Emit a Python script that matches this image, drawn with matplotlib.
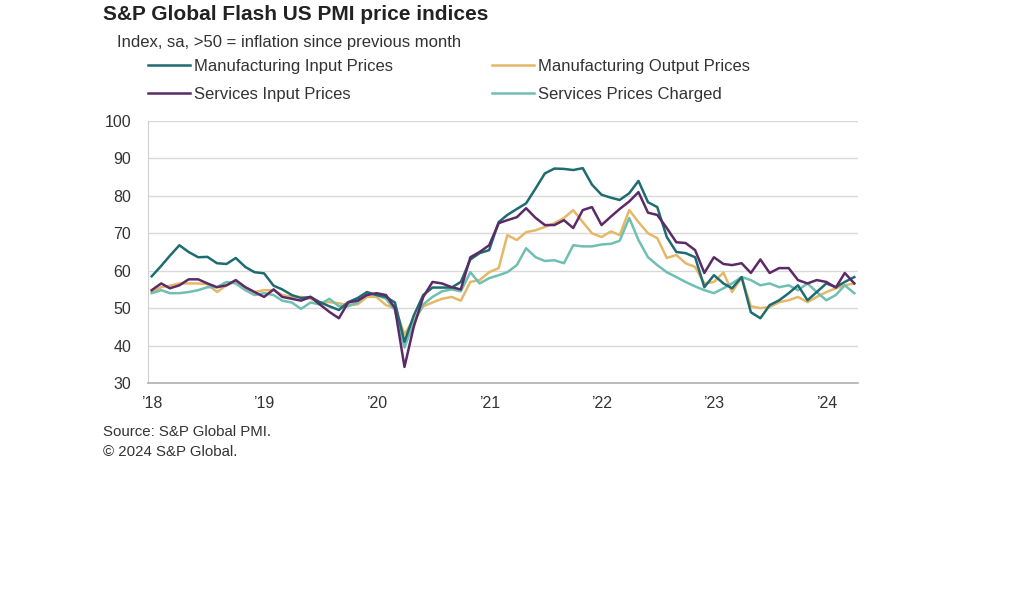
import numpy as np
import pandas as pd
import matplotlib
matplotlib.use("Agg")
import matplotlib.pyplot as plt
import matplotlib.dates as mdates

plt.rcParams['font.family'] = ['Liberation Sans', 'DejaVu Sans']

# monthly readings, Jan 2018 - Apr 2024
months = pd.date_range("2018-01-01", periods=76, freq="MS")

mfg_input = [58.5, 61.3, 64.0, 66.8, 65.0, 63.6, 63.7, 62.0, 61.8, 63.4, 61.0, 59.6,
             59.3, 56.0, 55.0, 53.5, 52.7, 53.0, 51.6, 50.5, 49.5, 51.6, 52.7, 54.3,
             53.5, 53.0, 51.5, 41.0, 48.0, 53.5, 55.5, 55.5, 55.5, 57.0, 63.0, 64.7,
             65.5, 73.0, 74.9, 76.5, 78.0, 82.0, 86.0, 87.3, 87.2, 86.9, 87.4, 83.0,
             80.3, 79.5, 78.9, 80.7, 84.0, 78.3, 77.0, 69.0, 65.0, 64.7, 63.6, 55.6,
             58.8, 56.6, 55.3, 58.3, 48.9, 47.3, 50.8, 52.1, 54.0, 56.1, 52.1, 54.3,
             56.6, 55.6, 57.0, 58.3]

mfg_output = [54.3, 55.6, 56.0, 56.6, 56.6, 56.6, 56.4, 54.3, 56.1, 57.2, 55.6, 54.3,
              54.8, 54.8, 53.5, 53.0, 53.0, 52.5, 51.5, 51.6, 51.3, 50.8, 51.0, 53.0,
              53.0, 50.8, 50.0, 43.0, 47.0, 50.5, 51.5, 52.5, 53.0, 52.0, 57.0, 57.5,
              59.6, 60.7, 69.5, 68.2, 70.3, 70.8, 71.7, 72.7, 74.1, 76.2, 73.0, 70.0,
              69.0, 70.5, 69.5, 76.2, 73.0, 70.0, 68.7, 63.4, 64.2, 62.0, 61.0, 56.6,
              57.0, 59.5, 54.3, 58.2, 50.5, 50.0, 50.3, 51.6, 52.1, 53.0, 51.6, 53.0,
              54.3, 55.3, 56.1, 56.6]

svc_input = [54.8, 56.6, 55.3, 56.1, 57.7, 57.7, 56.6, 55.6, 56.1, 57.5, 55.6, 54.3,
             53.0, 55.0, 53.0, 52.5, 52.0, 53.0, 51.0, 49.0, 47.3, 51.5, 52.0, 53.5,
             54.0, 53.5, 50.0, 34.3, 45.0, 53.0, 57.0, 56.6, 55.6, 55.0, 63.6, 65.0,
             66.8, 72.7, 73.5, 74.3, 76.7, 74.1, 72.2, 72.2, 73.5, 71.4, 76.2, 77.0,
             72.2, 74.5, 76.5, 78.5, 81.0, 75.5, 74.9, 71.4, 67.6, 67.4, 65.5, 59.4,
             63.6, 61.8, 61.5, 62.0, 59.4, 63.0, 59.4, 60.7, 60.7, 57.5, 56.6, 57.5,
             57.0, 55.5, 59.4, 56.6]

svc_charged = [54.0, 54.8, 54.0, 54.0, 54.3, 54.8, 55.6, 55.6, 57.0, 56.6, 54.8, 53.5,
               54.0, 53.5, 52.0, 51.5, 49.8, 51.5, 51.0, 52.5, 50.5, 50.5, 51.5, 54.0,
               53.5, 52.5, 49.5, 39.5, 46.0, 51.0, 53.0, 54.5, 55.0, 54.5, 59.6, 56.6,
               58.0, 58.8, 59.6, 61.5, 66.0, 63.6, 62.6, 62.8, 62.0, 66.8, 66.5, 66.5,
               67.0, 67.2, 68.0, 74.1, 68.2, 63.6, 61.5, 59.6, 58.3, 57.0, 55.8, 54.8,
               54.0, 55.3, 56.6, 58.3, 57.5, 56.1, 56.6, 55.6, 56.1, 54.8, 56.6, 54.3,
               52.1, 53.5, 56.1, 54.0]

year_labels = ["\u201918", "\u201919", "\u201920", "\u201921", "\u201922", "\u201923", "\u201924"]

fig = plt.figure(figsize=(10.24, 5.94), dpi=100)
ax = fig.add_axes([148 / 1024, 1 - 383 / 594, 710 / 1024, 262 / 594])

lw = 1.8
h_mo, = ax.plot(months, mfg_output, color='#e5b868', lw=lw, label='Manufacturing Output Prices')
h_sc, = ax.plot(months, svc_charged, color='#6fbfb2', lw=lw, label='Services Prices Charged')
h_mi, = ax.plot(months, mfg_input, color='#1f6b72', lw=lw, label='Manufacturing Input Prices')
h_si, = ax.plot(months, svc_input, color='#5c2a67', lw=lw, label='Services Input Prices')

ax.set_ylim(30, 100)
ax.set_yticks(range(30, 101, 10))
ax.set_xlim(months[0] - pd.Timedelta(days=12), months[-1] + pd.Timedelta(days=12))
ax.set_xticks(pd.date_range("2018-01-01", "2024-01-01", freq="YS"))
ax.set_xticklabels(year_labels)

ax.grid(axis='y', color='#d9d9d9', lw=1)
ax.set_axisbelow(True)
for s in ['top', 'right']:
    ax.spines[s].set_visible(False)
ax.spines['left'].set_color('#d0d0d0')
ax.spines['bottom'].set_color('#b0b0b0')
ax.spines['bottom'].set_linewidth(1.2)
ax.tick_params(axis='both', length=0, labelsize=11.5, colors='#333333')
ax.tick_params(axis='x', pad=9)
ax.tick_params(axis='y', pad=12)

fig.text(103 / 1024, 1 - 14 / 594, 'S&P Global Flash US PMI price indices',
         fontsize=15, fontweight='bold', color='#222222', va='center', ha='left')
fig.text(117 / 1024, 1 - 42 / 594, 'Index, sa, >50 = inflation since previous month',
         fontsize=12, color='#333333', va='center', ha='left')

ax.legend(handles=[h_mi, h_si, h_mo, h_sc], ncol=2, frameon=False,
          loc='upper left', bbox_to_anchor=(148 / 1024, 1 - 58.5 / 594),
          bbox_transform=fig.transFigure, borderpad=0, borderaxespad=0,
          fontsize=12, handlelength=2.5, handletextpad=0.25,
          columnspacing=5.95, labelspacing=0.8, labelcolor='#333333')

fig.text(103 / 1024, 1 - 432 / 594, 'Source: S&P Global PMI.',
         fontsize=10.8, color='#333333', va='center', ha='left')
fig.text(103 / 1024, 1 - 452 / 594, '\u00a9 2024 S&P Global.',
         fontsize=10.8, color='#333333', va='center', ha='left')

fig.savefig('out.png', dpi=100)
